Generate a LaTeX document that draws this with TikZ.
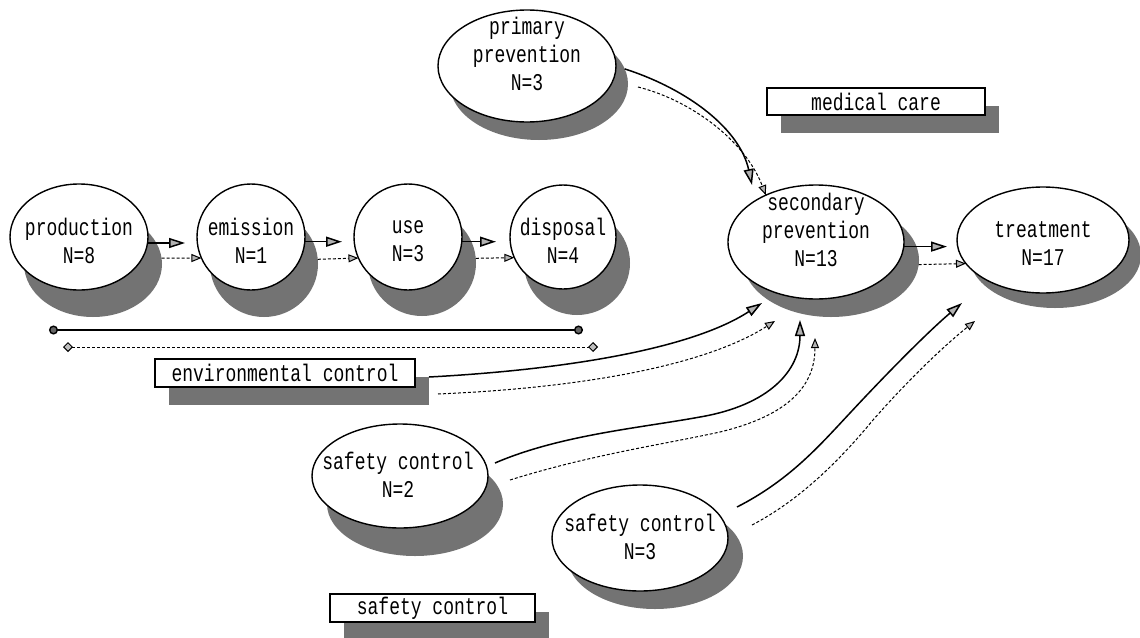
\documentclass[tikz,border=0pt]{standalone}
\usepackage{fontspec}
\newfontfamily\lblfont[FakeStretch=0.75]{Liberation Mono}
\usetikzlibrary{arrows.meta,calc,shapes.geometric}
\newcommand\shellipse[7]{%
  \node[shd, minimum width=#4pt, minimum height=#5pt] (#1sh) at (#2+#6,#3+#7) {};
  \node[ell, minimum width=#4pt, minimum height=#5pt] (#1) at (#2,#3) {};}
\begin{document}
\begin{tikzpicture}[x=0.5pt,y=-0.5pt,
  ell/.style={shape=ellipse, draw=black, line width=0.7pt, fill=white, inner sep=0pt, outer sep=0pt},
  shd/.style={shape=ellipse, fill=black!55, draw=none, inner sep=0pt, outer sep=0pt},
  lbl/.style={font=\lblfont\fontsize{12pt}{14pt}\selectfont, align=center, inner sep=0pt},
  box/.style={draw=black, line width=0.7pt, fill=white, inner sep=0pt, outer sep=0pt,
    font=\lblfont\fontsize{12pt}{14pt}\selectfont},
  boxshd/.style={fill=black!55, draw=none, inner sep=0pt, outer sep=0pt},
  sarr/.style={line width=0.75pt, -{Triangle[length=8pt,width=5pt,fill=black!30]}},
  darr/.style={line width=0.5pt, dash pattern=on 1.5pt off 1pt,
    -{Triangle[length=5pt,width=4pt,fill=black!30]}},
]
\useasboundingbox[fill=white] (0,0) rectangle (1140,637);

% ellipses with shadows: name, cx, cy, width(pt), height(pt), dx, dy
\shellipse{prod}{79}{237}{69}{53}{14}{27}
\shellipse{emi}{251}{237}{54}{53}{13}{27}
\shellipse{use}{408}{237}{54}{53}{14}{26}
\shellipse{disp}{563}{237}{53}{52}{14}{26}
\shellipse{prim}{527}{66}{89}{56}{12}{18}
\shellipse{sec}{816}{242}{88}{57}{15}{18}
\shellipse{treat}{1043}{240}{86}{53}{12}{15}
\shellipse{safeA}{400}{476}{88}{52}{15}{28}
\shellipse{safeB}{640}{538}{88}{53}{15}{18}

\node[lbl] (tprod) at (79,241) {production\\N=8};
\node[lbl] (temi) at (251,241) {emission\\N=1};
\node[lbl] (tuse) at (408,241) {use\\N=3};
\node[lbl] (tdisp) at (563,241) {disposal\\N=4};
\node[lbl] (tprim) at (527,54) {primary\\prevention\\N=3};
\node[lbl] (tsec) at (816,230) {secondary\\prevention\\N=13};
\node[lbl] (ttreat) at (1043,244) {treatment\\N=17};
\node[lbl] (tsafeA) at (398,475) {safety control\\N=2};
\node[lbl] (tsafeB) at (640,537) {safety control\\N=3};

% boxes with shadows
\node[boxshd, minimum width=130pt, minimum height=14pt] (envsh) at (299,391) {};
\node[box, minimum width=130pt, minimum height=14pt] (env) at (285,373) {environmental control};
\node[boxshd, minimum width=102.5pt, minimum height=14pt] (safboxsh) at (446.5,626) {};
\node[box, minimum width=102.5pt, minimum height=14pt] (safbox) at (432.5,608) {safety control};
\node[boxshd, minimum width=109pt, minimum height=13.5pt] (medsh) at (890,119.5) {};
\node[box, minimum width=109pt, minimum height=13.5pt] (med) at (876,101.5) {medical care};

% chain arrows
\draw[sarr] (prod.-5) -- ($(emi.west |- prod.-5)+(-12,0)$);
\draw[darr] (prodsh.5) -- (emi.203);
\draw[sarr] (emi.-5) -- ($(use.west |- emi.-5)+(-12,0)$);
\draw[darr] (emish.5) -- (use.203);
\draw[sarr] (use.-5) -- ($(disp.west |- use.-5)+(-14,0)$);
\draw[darr] (usesh.5) -- (disp.203);
\draw[sarr] (sec.-3) -- ($(treat.west |- sec.-3)+(-10,0)$);
\draw[darr] (secsh.-3) -- (treat.197);

% range lines
\coordinate (la) at (49,330);
\coordinate (lb) at (583,330);
\coordinate (da) at (63,347);
\coordinate (db) at (598,347);
\draw[line width=0.7pt, {Circle[length=4.5pt,fill=black!60]}-{Circle[length=4.5pt,fill=black!60]}] (la) -- (lb);
\draw[line width=0.5pt, dash pattern=on 1.5pt off 1pt,
  {Diamond[length=5pt,width=5pt,fill=black!25]}-{Diamond[length=5pt,width=5pt,fill=black!25]}] (da) -- (db);

% primary -> secondary
\draw[sarr] (primsh.10) .. controls (690,90) and (740,130) .. ($(sec.north)+(-64,0)$);
\draw[darr] ($(primsh.east)+(10,3)$) .. controls (690,100) and (745,140) .. (sec.137);

% environmental control -> secondary
\draw[sarr] (envsh.north east) .. controls (560,370) and (690,350) .. ($(sec.center)+(-54,61)$);
\draw[darr] ($(envsh.east)+(9,3)$) .. controls (580,388) and (705,366) .. ($(sec.center)+(-41,79)$);

% safety control N=2 -> secondary
\draw[sarr] ($(safeA.center)+(95,-13)$) .. controls (560,435) and (640,428) .. (700,417)
  .. controls (770,405) and (800,370) .. ($(sec.center)+(-16,78)$);
\draw[darr] ($(safeA.center)+(110,4)$) .. controls (590,455) and (660,445) .. (720,432)
  .. controls (790,415) and (815,385) .. ($(sec.center)+(-1,96)$);

% safety control N=3 -> treatment
\draw[sarr] ($(safeB.center)+(97,-31)$) .. controls (790,480) and (820,445) .. (850,413)
  .. controls (890,370) and (930,330) .. ($(treat.center)+(-81,63)$);
\draw[darr] ($(safeB.center)+(112,-13)$) .. controls (800,500) and (840,460) .. (873,420)
  .. controls (910,378) and (945,345) .. ($(treat.center)+(-68,81)$);
\end{tikzpicture}
\end{document}
